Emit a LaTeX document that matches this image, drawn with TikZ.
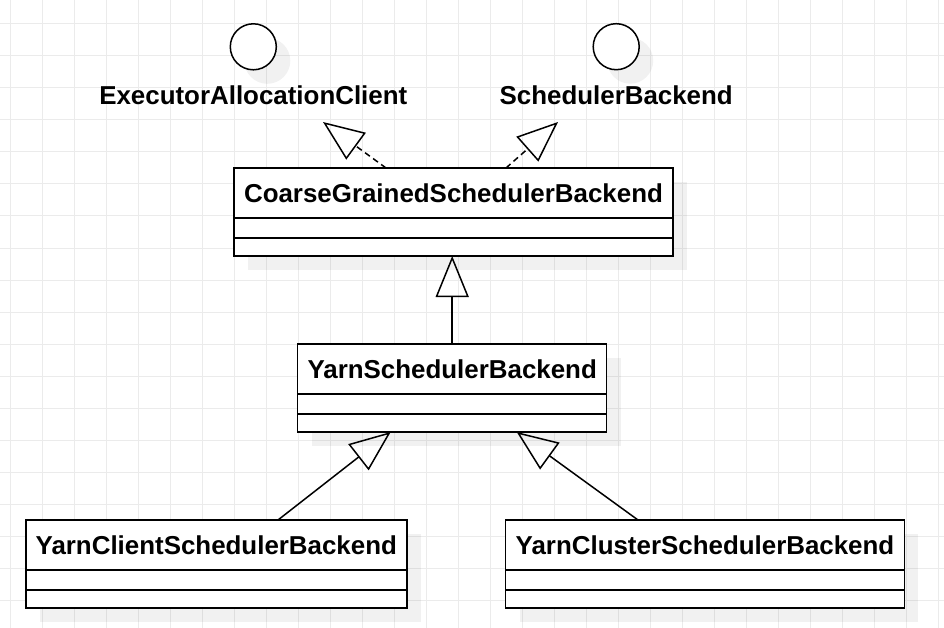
\documentclass[tikz,border=0pt]{standalone}
\usepackage{fontspec}
\setmainfont{Liberation Sans}
\usetikzlibrary{arrows.meta,positioning,shadows,calc}

\begin{document}
\begin{tikzpicture}[x=1pt,y=-1pt,
  gridline/.style={draw=black!8,line width=1pt},
  box/.style={draw,line width=1.5pt,fill=white,inner sep=0pt,outer sep=0pt,
    drop shadow={shadow xshift=14pt,shadow yshift=-14pt,fill=black,opacity=0.055}},
  classname/.style={box,minimum height=50pt,font=\fontsize{25.9}{30}\selectfont\bfseries},
  classpart/.style={box,minimum height=20pt},
  iface/.style={box,circle,minimum size=46pt},
  ifacename/.style={inner sep=0pt,font=\fontsize{25.9}{30}\selectfont\bfseries},
  extends/.style={line width=1.5pt,-{Triangle[open,length=41pt,width=33pt]}},
  implements/.style={extends,dash pattern=on 6pt off 4pt}]
\useasboundingbox (0,0) rectangle (944,628);
\fill[white] (0,0) rectangle (944,628);
% background grid
\foreach \x in {10,42,...,938} \draw[gridline] (\x,0) -- (\x,628);
\foreach \y in {24,56,...,600} \draw[gridline] (0,\y) -- (944,\y);

% interfaces
\node[iface] (eac) at (253.3,46.8) {};
\node[ifacename,below=16pt of eac] (eac name) {ExecutorAllocationClient};
\node[iface] (sb) at (616.2,46.7) {};
\node[ifacename,below=16pt of sb] (sb name) {SchedulerBackend};
\coordinate (eac tip) at (323,122);
\coordinate (sb tip) at (558,122);

% classes
\node[classname,minimum width=439pt] (cgsb) at (453.5,193) {CoarseGrainedSchedulerBackend};
\node[classpart,minimum width=439pt,below=0pt of cgsb] (cgsb attr) {};
\node[classpart,minimum width=439pt,minimum height=18pt,below=0pt of cgsb attr] (cgsb op) {};

\node[classname,minimum width=309pt] (ysb) at (452.2,369) {YarnSchedulerBackend};
\node[classpart,minimum width=309pt,below=0pt of ysb] (ysb attr) {};
\node[classpart,minimum width=309pt,minimum height=18pt,below=0pt of ysb attr] (ysb op) {};

\node[classname,minimum width=381pt] (ycsb) at (216.3,545) {YarnClientSchedulerBackend};
\node[classpart,minimum width=381pt,below=0pt of ycsb] (ycsb attr) {};
\node[classpart,minimum width=381pt,minimum height=18pt,below=0pt of ycsb attr] (ycsb op) {};

\node[classname,minimum width=398.6pt] (ycls) at (705,545) {YarnClusterSchedulerBackend};
\node[classpart,minimum width=398.6pt,below=0pt of ycls] (ycls attr) {};
\node[classpart,minimum width=398.6pt,minimum height=18pt,below=0pt of ycls attr] (ycls op) {};

% relations
\draw[implements] ([xshift=-67.5pt]cgsb.north) -- (eac tip);
\draw[implements] ([xshift=52.5pt]cgsb.north) -- (sb tip);
\draw[extends] (ysb.north) -- (ysb.north |- cgsb op.south);
\draw[extends] ([xshift=61.7pt]ycsb.north) -- ([xshift=-61.5pt]ysb op.south);
\draw[extends] ([xshift=-67pt]ycls.north) -- ([xshift=64.5pt]ysb op.south);
\end{tikzpicture}
\end{document}
